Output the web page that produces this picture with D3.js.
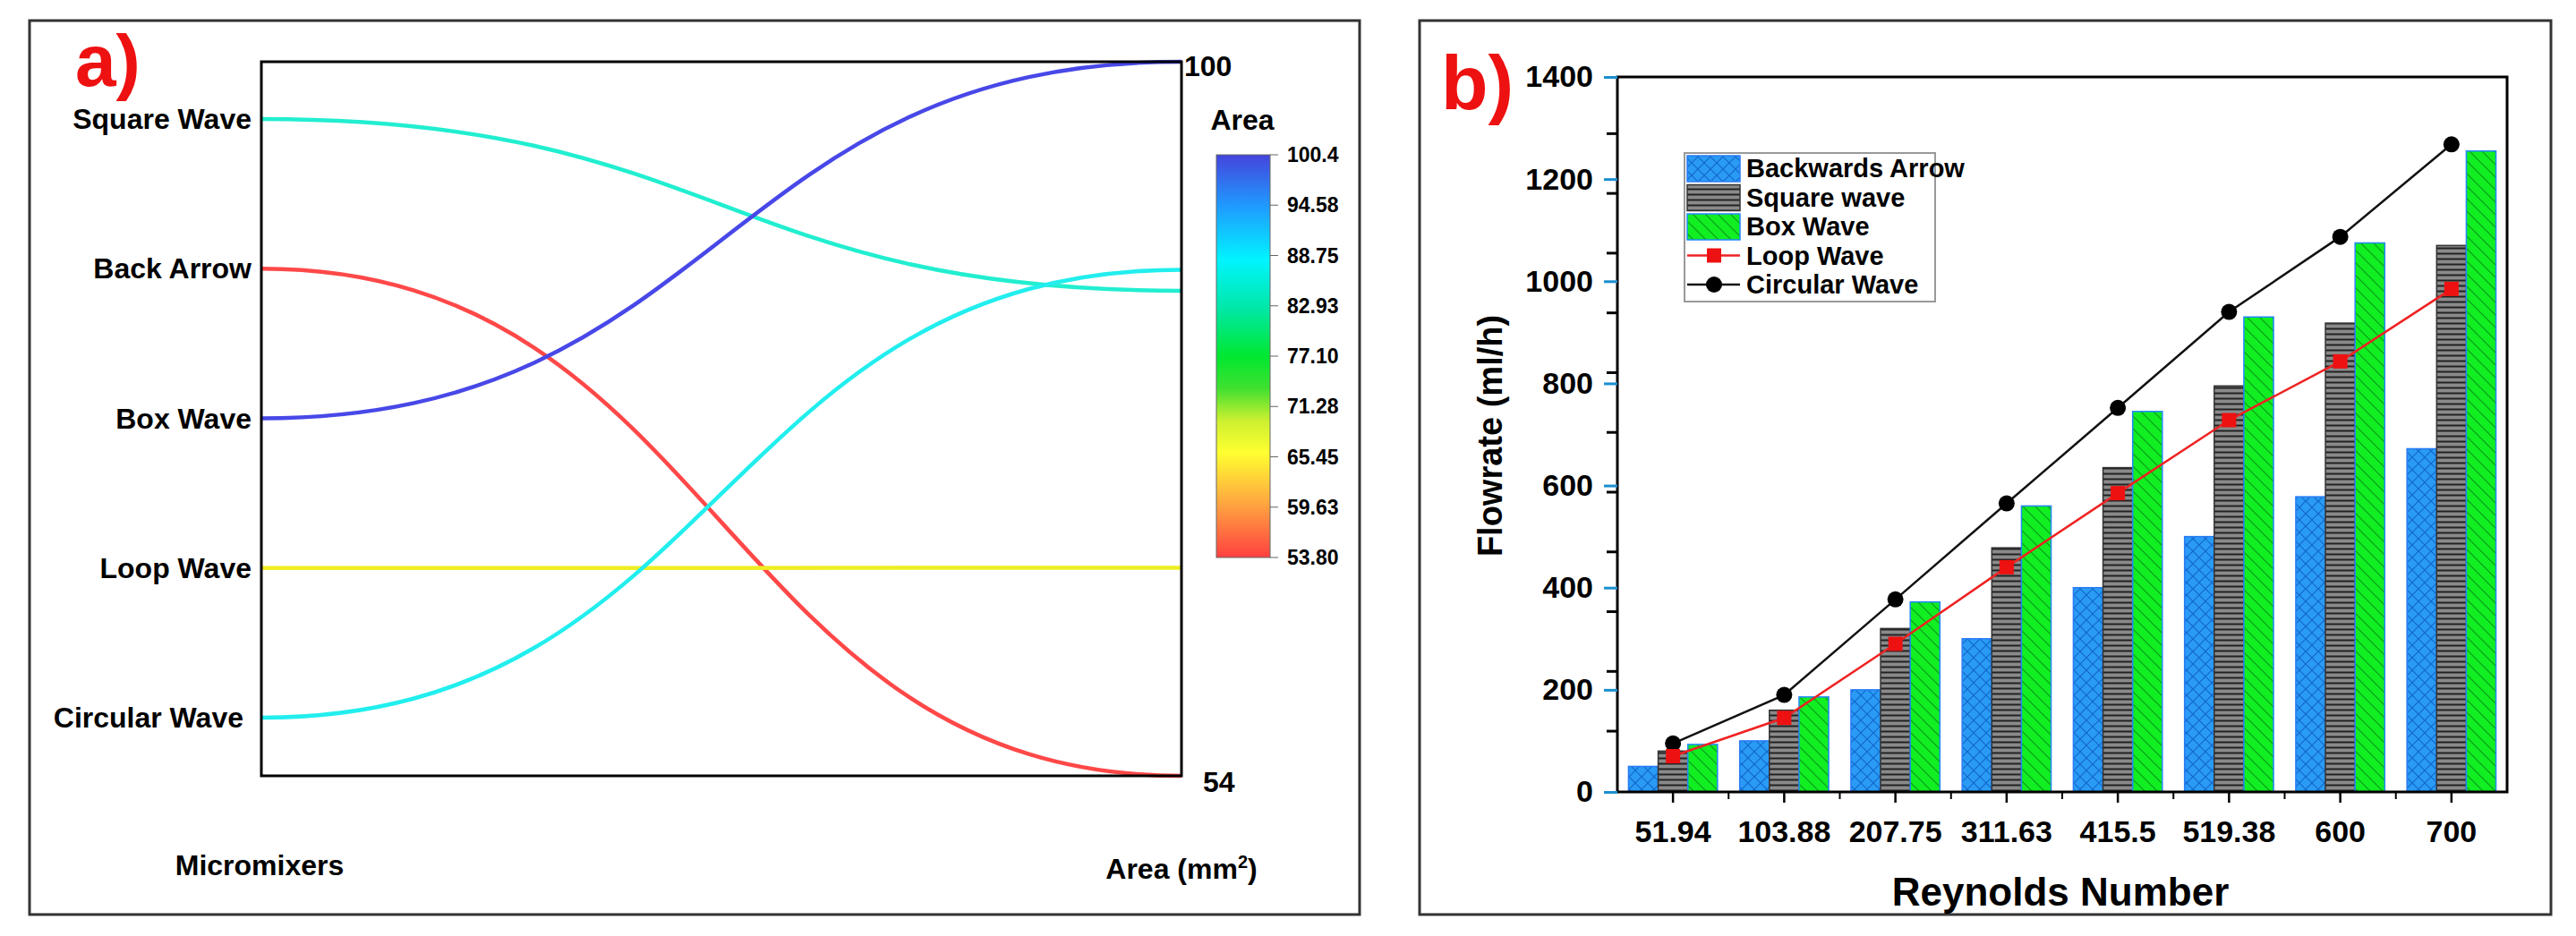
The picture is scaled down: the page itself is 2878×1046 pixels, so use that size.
<!DOCTYPE html><html><head><meta charset="utf-8">
<script src="https://cdn.jsdelivr.net/npm/d3@7"></script>
<style>body{margin:0;background:#fff}svg{display:block}text{font-family:"Liberation Sans Narrow","Liberation Sans",Arial,sans-serif;font-weight:bold}</style></head><body>
<svg id="c" width="2878" height="1046"></svg>
<script>
// Panel a data
const mixers = ["Square Wave","Back Arrow","Box Wave","Loop Wave","Circular Wave"];
const areas = [85.25, 54, 100, 67.4, 86.6];
const lineColors = ["#22eed0","#ff4848","#4848e8","#eeee22","#22eeee"];
const cbTicks = ["100.4","94.58","88.75","82.93","77.10","71.28","65.45","59.63","53.80"];
const cbStops = [[0,"#4444dd"],[0.13,"#1f9cff"],[0.26,"#00f4ff"],[0.38,"#00e8a8"],[0.5,"#00e830"],[0.58,"#40e030"],[0.66,"#ccf030"],[0.74,"#ffff30"],[0.86,"#ffaa40"],[1,"#ff4040"]];
// Panel b data
const reynolds = ["51.94","103.88","207.75","311.63","415.5","519.38","600","700"];
const backArrow = [50,100,200,300,400,500,578,672];
const squareWave = [80,160,320,478,635,795,918,1070];
const boxWave = [93,186,372,560,745,930,1075,1255];
const loopWave = [70,145,290,440,585,728,843,985];
const circularWave = [95,190,377,565,752,940,1087,1268];
const yTicks = [0,200,400,600,800,1000,1200,1400];
const blackTicks = [119,236,353,470,587,704,821,938,1055,1172,1289];

const svg = d3.select("#c");
const defs = svg.append("defs");
let p = defs.append("pattern").attr("id","pBlue").attr("width",14).attr("height",14).attr("patternUnits","userSpaceOnUse");
p.append("rect").attr("width",14).attr("height",14).attr("fill","#2a9bf5");
p.append("path").attr("d","M0,0L14,14M14,0L0,14").attr("stroke","#1166cc").attr("stroke-width",1.2);
p = defs.append("pattern").attr("id","pGray").attr("width",8).attr("height",6).attr("patternUnits","userSpaceOnUse");
p.append("rect").attr("width",8).attr("height",6).attr("fill","#8a8a8a");
p.append("path").attr("d","M0,1.5H8").attr("stroke","#222").attr("stroke-width",2);
p = defs.append("pattern").attr("id","pGreen").attr("width",14).attr("height",14).attr("patternUnits","userSpaceOnUse");
p.append("rect").attr("width",14).attr("height",14).attr("fill","#11ee22");
p.append("path").attr("d","M0,0L14,14M-7,7L7,21M7,-7L21,7").attr("stroke","#0a9a18").attr("stroke-width",1.2);
const lg = defs.append("linearGradient").attr("id","cb").attr("x1",0).attr("x2",0).attr("y1",0).attr("y2",1);
cbStops.forEach(s=>lg.append("stop").attr("offset",s[0]).attr("stop-color",s[1]));

// ---- Panel a ----
svg.append("rect").attr("x",33).attr("y",23).attr("width",1486).attr("height",999).attr("fill","none").attr("stroke","#333").attr("stroke-width",3);
svg.append("text").attr("x",84).attr("y",96).attr("fill","#ee1111").attr("font-size",82).attr("font-family","Lato").attr("font-weight","900").text("a)");
const ax0=292, ax1=1320, ay0=69, ay1=867;
const yL = d3.scalePoint().domain(mixers).range([133,802]);
const yR = d3.scaleLinear().domain([54,100]).range([ay1,ay0]);
const ga = svg.append("g");
mixers.forEach((m,i)=>{
  const y0=yL(m), y1=yR(areas[i]), xm=(ax0+ax1)/2;
  const path=d3.path(); path.moveTo(ax0,y0); path.bezierCurveTo(xm,y0,xm,y1,ax1,y1);
  ga.append("path").attr("d",path.toString()).attr("fill","none").attr("stroke",lineColors[i]).attr("stroke-width",4.5);
  ga.append("text").attr("x",i===4?272:281).attr("y",y0+11).attr("text-anchor","end").attr("font-size",32).text(m);
});
svg.append("rect").attr("x",ax0).attr("y",ay0).attr("width",ax1-ax0).attr("height",ay1-ay0).attr("fill","none").attr("stroke","#000").attr("stroke-width",3);
svg.append("text").attr("x",1323).attr("y",ay0+16).attr("font-size",32).text("100");
svg.append("text").attr("x",1344).attr("y",ay1+18).attr("font-size",32).text("54");
svg.append("text").attr("x",1388).attr("y",145).attr("text-anchor","middle").attr("font-size",32).text("Area");
const cbY = d3.scalePoint().domain(cbTicks).range([173,623]);
svg.append("rect").attr("x",1359).attr("y",173).attr("width",60).attr("height",450).attr("fill","url(#cb)").attr("stroke","#666");
cbTicks.forEach(t=>{
  svg.append("line").attr("x1",1419).attr("x2",1428).attr("y1",cbY(t)).attr("y2",cbY(t)).attr("stroke","#666");
  svg.append("text").attr("x",1438).attr("y",cbY(t)+8).attr("font-size",23).attr("font-weight","normal").text(t);
});
svg.append("text").attr("x",290).attr("y",978).attr("text-anchor","middle").attr("font-size",32).text("Micromixers");
const at=svg.append("text").attr("x",1320).attr("y",982).attr("text-anchor","middle").attr("font-size",32);
at.append("tspan").text("Area (mm");at.append("tspan").attr("dy",-12).attr("font-size",20).text("2");at.append("tspan").attr("dy",12).text(")");

// ---- Panel b ----
svg.append("rect").attr("x",1586).attr("y",23).attr("width",1264).attr("height",999).attr("fill","none").attr("stroke","#333").attr("stroke-width",3);
svg.append("text").attr("x",1610).attr("y",122).attr("fill","#ee1111").attr("font-size",86).attr("font-family","Lato").attr("font-weight","900").text("b)");
const bx0=1807, bx1=2801, by0=86, by1=885;
const x = d3.scaleBand().domain(reynolds).range([bx0,bx1]).paddingInner(0.2).paddingOuter(0.1);
const y = d3.scaleLinear().domain([0,1400]).range([by1,by0]);
const bw = x.bandwidth()/3;
const series=[[backArrow,"url(#pBlue)","#2a7bf5"],[squareWave,"url(#pGray)","#333"],[boxWave,"url(#pGreen)","#2288ff"]];
series.forEach((s,k)=>{
  svg.append("g").selectAll("rect").data(s[0]).join("rect")
   .attr("x",(d,i)=>x(reynolds[i])+k*bw).attr("width",bw).attr("y",d=>y(d)).attr("height",d=>by1-y(d))
   .attr("fill",s[1]).attr("stroke",s[2]).attr("stroke-width",1.5);
});
const cx = r=>x(r)+x.bandwidth()/2;
const line = d3.line().x((d,i)=>cx(reynolds[i])).y(d=>y(d));
svg.append("path").attr("d",line(circularWave)).attr("fill","none").attr("stroke","#111").attr("stroke-width",2.5);
svg.append("path").attr("d",line(loopWave)).attr("fill","none").attr("stroke","#ee2222").attr("stroke-width",2.5);
svg.append("g").selectAll("circle").data(circularWave).join("circle").attr("cx",(d,i)=>cx(reynolds[i])).attr("cy",d=>y(d)).attr("r",9).attr("fill","#000");
svg.append("g").selectAll("rect").data(loopWave).join("rect").attr("x",(d,i)=>cx(reynolds[i])-8).attr("y",d=>y(d)-8).attr("width",16).attr("height",16).attr("fill","#ee1111");
svg.append("rect").attr("x",bx0).attr("y",by0).attr("width",bx1-bx0).attr("height",by1-by0).attr("fill","none").attr("stroke","#000").attr("stroke-width",3);
const yAx = svg.append("g").attr("transform",`translate(${bx0},0)`).call(d3.axisLeft(y).tickValues(yTicks).tickFormat(d3.format("d")).tickSize(15).tickPadding(12));
yAx.select(".domain").remove();
yAx.selectAll("text").attr("font-size",34).attr("font-family","Liberation Sans Narrow").attr("font-weight","bold");
yAx.selectAll("line").attr("stroke","#1a8fd0").attr("stroke-width",3);
svg.append("g").selectAll("line").data(blackTicks).join("line").attr("x1",bx0-12).attr("x2",bx0).attr("y1",d=>y(d)).attr("y2",d=>y(d)).attr("stroke","#000").attr("stroke-width",3);
const xAx = svg.append("g").attr("transform",`translate(0,${by1})`).call(d3.axisBottom(x).tickSize(12).tickPadding(20));
xAx.select(".domain").remove();
xAx.selectAll("line").attr("stroke","#000").attr("stroke-width",2.5);
xAx.selectAll("text").attr("font-size",34).attr("font-family","Liberation Sans Narrow").attr("font-weight","bold");
svg.append("g").selectAll("line").data(reynolds.slice(1)).join("line").attr("x1",d=>x(d)-x.step()*0.1).attr("x2",d=>x(d)-x.step()*0.1).attr("y1",by1).attr("y2",by1+8).attr("stroke","#000").attr("stroke-width",2);
svg.append("text").attr("transform",`translate(1678,487) rotate(-90)`).attr("text-anchor","middle").attr("font-size",38).attr("font-family","DejaVu Sans").text("Flowrate (ml/h)");
svg.append("text").attr("x",2302).attr("y",1012).attr("text-anchor","middle").attr("font-size",44).text("Reynolds Number");
// legend
const lx=1882, ly=171;
svg.append("rect").attr("x",lx).attr("y",ly).attr("width",280).attr("height",166).attr("fill","#fff").attr("stroke","#999").attr("stroke-width",2);
const names=["Backwards Arrow","Square wave","Box Wave","Loop Wave","Circular Wave"];
names.forEach((n,i)=>{
  const yy=ly+17+i*32.5;
  if(i<3) svg.append("rect").attr("x",lx+3).attr("y",yy-14).attr("width",59).attr("height",29).attr("fill",series[i][1]).attr("stroke",series[i][2]).attr("stroke-width",1.5);
  else {
    svg.append("line").attr("x1",lx+3).attr("x2",lx+62).attr("y1",yy).attr("y2",yy).attr("stroke",i===3?"#ee2222":"#111").attr("stroke-width",2.5);
    if(i===3) svg.append("rect").attr("x",lx+25).attr("y",yy-8).attr("width",16).attr("height",16).attr("fill","#ee1111");
    else svg.append("circle").attr("cx",lx+33).attr("cy",yy).attr("r",9).attr("fill","#000");
  }
  svg.append("text").attr("x",lx+69).attr("y",yy+10).attr("font-size",29).attr("font-weight","normal").text(n);
});
</script></body></html>
